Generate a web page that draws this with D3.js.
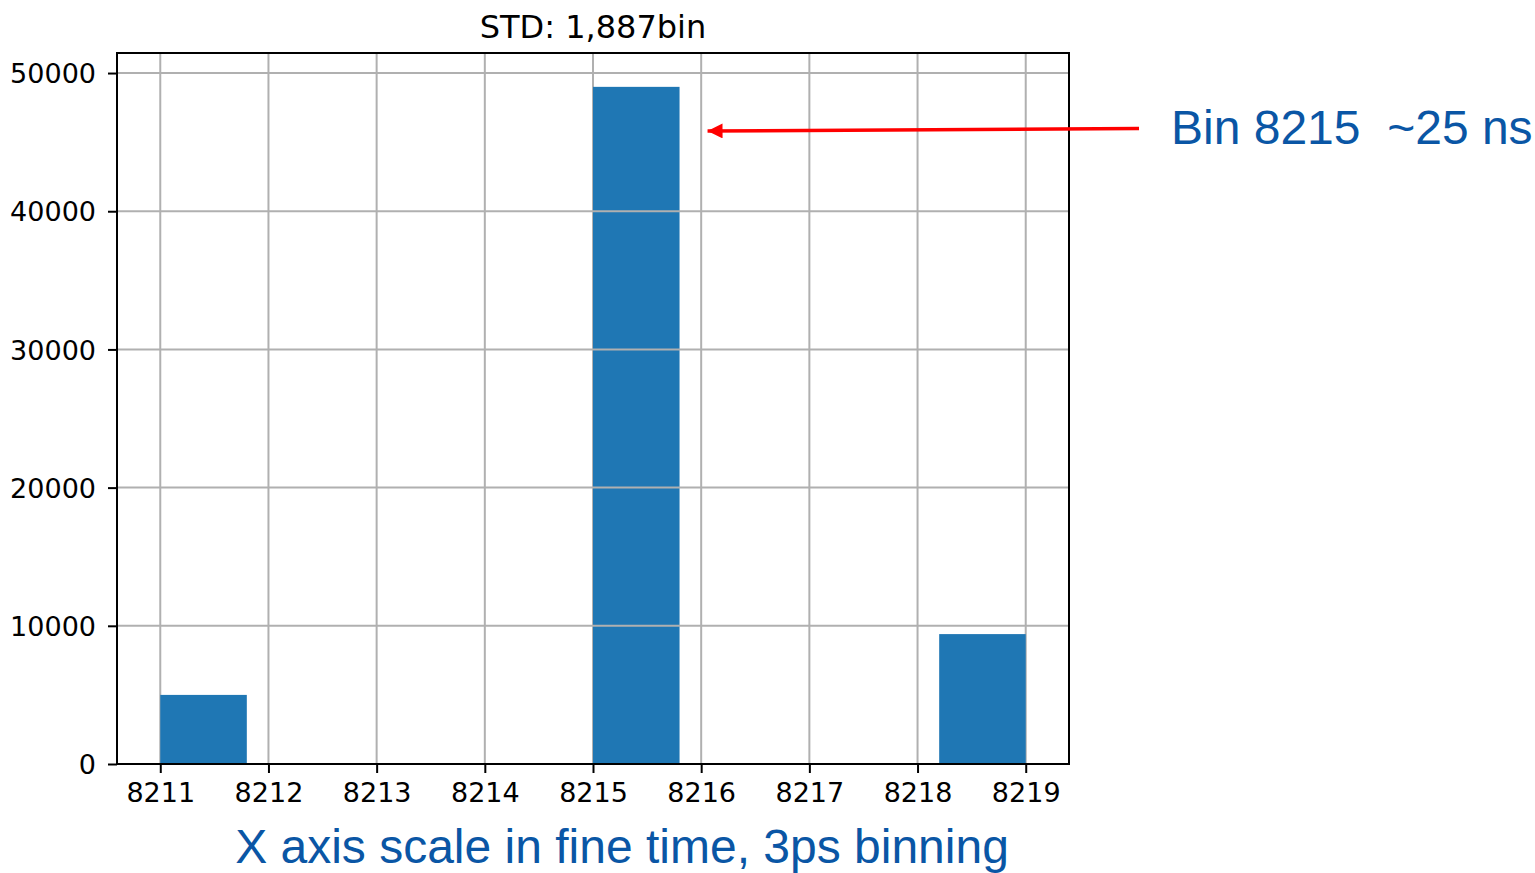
<!DOCTYPE html>
<html>
<head>
<meta charset="utf-8">
<script src="https://cdn.jsdelivr.net/npm/d3@7"></script>
<style>
	body { margin: 0; background: #fff; }
	svg { display: block; }
</style>
</head>
<body>
<svg></svg>
<script>
// histogram bins (10 bins from 8211 to 8219)
var binEdges = [8211, 8211.8, 8212.6, 8213.4, 8214.2, 8215, 8215.8, 8216.6, 8217.4, 8218.2, 8219];
var counts = [5000, 0, 0, 0, 0, 49000, 0, 0, 0, 9400];
var xTicks = [8211, 8212, 8213, 8214, 8215, 8216, 8217, 8218, 8219];
var yTicks = [0, 10000, 20000, 30000, 40000, 50000];
var title = "STD: 1,887bin";
var xCaption = "X axis scale in fine time, 3ps binning";
var note = "Bin 8215  ~25 ns";
var arrowBin = 8215.8;

var margin = {
		top: 53,
		right: 466,
		bottom: 109,
		left: 117
	},
	W = 1535,
	H = 873,
	width = W - margin.left - margin.right,
	height = H - margin.top - margin.bottom;

var svg = d3.select("svg")
	.attr("width", W)
	.attr("height", H);

var g = svg.append("g")
	.attr("transform", "translate(" + margin.left + "," + margin.top + ")");

// scales, with matplotlib's 5% margins
var xMin = binEdges[0], xMax = binEdges[binEdges.length - 1];
var pad = (xMax - xMin) * 0.05;
var scaleX = d3.scaleLinear()
	.domain([xMin - pad, xMax + pad])
	.range([0, width]);

var scaleY = d3.scaleLinear()
	.domain([0, d3.max(counts) * 1.05])
	.range([height, 0]);

// grid
g.append("g")
	.selectAll("line")
	.data(xTicks)
	.enter()
	.append("line")
	.attr("x1", function(d) { return scaleX(d); })
	.attr("x2", function(d) { return scaleX(d); })
	.attr("y1", 0)
	.attr("y2", height)
	.attr("stroke", "#b0b0b0")
	.attr("stroke-width", 2);

// bars
var bins = counts.map(function(c, i) {
	return { x0: binEdges[i], x1: binEdges[i + 1], n: c };
});
g.selectAll("rect.bar")
	.data(bins.filter(function(d) { return d.n > 0; }))
	.enter()
	.append("rect")
	.attr("class", "bar")
	.attr("x", function(d) { return scaleX(d.x0); })
	.attr("width", function(d) { return scaleX(d.x1) - scaleX(d.x0); })
	.attr("y", function(d) { return scaleY(d.n); })
	.attr("height", function(d) { return height - scaleY(d.n); })
	.attr("fill", "#1f77b4");

// horizontal grid drawn over the bars like matplotlib's default here
g.append("g")
	.selectAll("line")
	.data(yTicks)
	.enter()
	.append("line")
	.attr("x1", 0)
	.attr("x2", width)
	.attr("y1", function(d) { return scaleY(d); })
	.attr("y2", function(d) { return scaleY(d); })
	.attr("stroke", "#b0b0b0")
	.attr("stroke-width", 2);

// x axis
var xAxis = g.append("g")
	.attr("transform", "translate(0," + height + ")")
	.call(d3.axisBottom(scaleX).tickValues(xTicks).tickFormat(d3.format("d")).tickSize(9).tickPadding(10));

// y axis
var yAxis = g.append("g")
	.call(d3.axisLeft(scaleY).tickValues(yTicks).tickFormat(d3.format("d")).tickSize(9).tickPadding(12));

[xAxis, yAxis].forEach(function(a) {
	a.select(".domain").remove();
	a.selectAll(".tick line").attr("stroke", "#000").attr("stroke-width", 2);
	a.selectAll(".tick text")
		.attr("fill", "#000")
		.style("font-family", "DejaVu Sans")
		.style("font-size", "27px");
});
yAxis.selectAll(".tick text").attr("dy", "0.36em");
xAxis.selectAll(".tick text").attr("dy", "0.71em");

// frame
g.append("rect")
	.attr("width", width)
	.attr("height", height)
	.attr("fill", "none")
	.attr("stroke", "#000")
	.attr("stroke-width", 2);

// title
g.append("text")
	.attr("x", width / 2)
	.attr("y", -15)
	.attr("text-anchor", "middle")
	.style("font-family", "DejaVu Sans")
	.style("font-size", "32px")
	.text(title);

// annotation arrow
svg.append("defs").append("marker")
	.attr("id", "head")
	.attr("viewBox", "0 0 10 10")
	.attr("refX", 10)
	.attr("refY", 5)
	.attr("markerUnits", "userSpaceOnUse")
	.attr("markerWidth", 16)
	.attr("markerHeight", 15)
	.attr("orient", "auto")
	.append("path")
	.attr("d", "M0,0 L10,5 L0,10 z")
	.attr("fill", "#ff0000");

var tipX = margin.left + scaleX(arrowBin) + 28;
svg.append("line")
	.attr("x1", 1139)
	.attr("y1", 128.5)
	.attr("x2", tipX)
	.attr("y2", 131)
	.attr("stroke", "#ff0000")
	.attr("stroke-width", 3.5)
	.attr("marker-end", "url(#head)");

svg.append("text")
	.attr("x", 1171)
	.attr("y", 144)
	.attr("fill", "#0a56a5")
	.style("font-family", "Liberation Sans, Arial")
	.style("font-size", "48px")
	.style("white-space", "pre")
	.text(note);

svg.append("text")
	.attr("x", margin.left + width / 2 + 29)
	.attr("y", 863)
	.attr("text-anchor", "middle")
	.attr("fill", "#0a56a5")
	.style("font-family", "Liberation Sans, Arial")
	.style("font-size", "48px")
	.text(xCaption);
</script>
</body>
</html>
